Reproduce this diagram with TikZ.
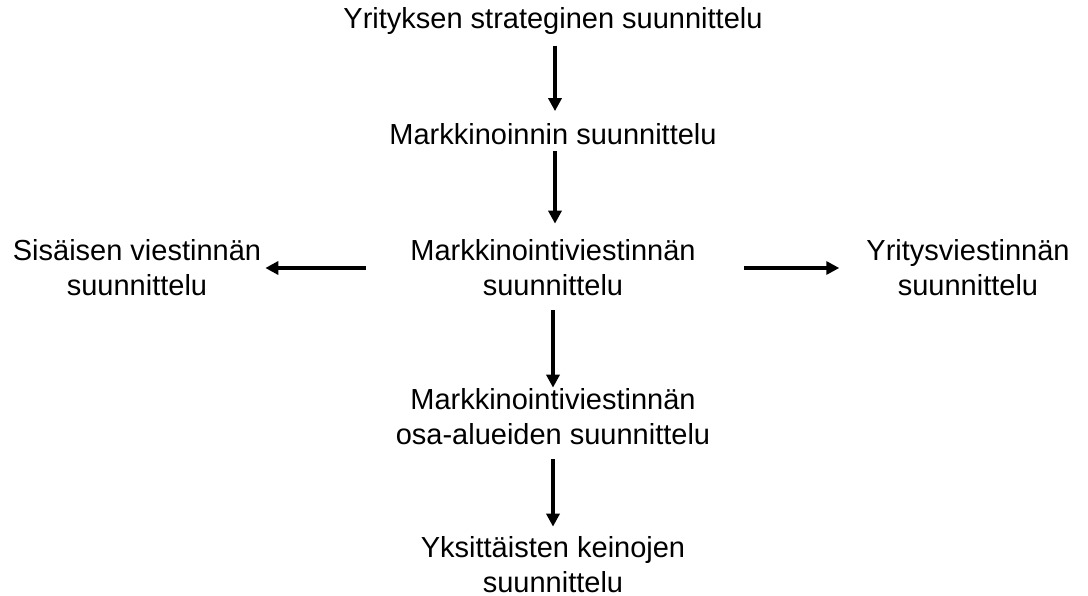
\documentclass[tikz,border=0pt]{standalone}
\usepackage{fontspec}
\setmainfont{Liberation Sans}
\usetikzlibrary{arrows.meta}
\begin{document}
\begin{tikzpicture}[x=1pt,y=-1pt,
  lbl/.style={font=\fontsize{29}{35}\selectfont, align=center, inner sep=0pt, text=black},
  arr/.style={line width=3.6pt, -{Triangle[length=13pt,width=13pt]}}]
\useasboundingbox (0,0) rectangle (1088,596);
\node[lbl] (n1) at (553,21) {Yrityksen strateginen suunnittelu};
\node[lbl] (n2) at (553,134) {Markkinoinnin suunnittelu};
\node[lbl] (n3) at (553,268) {Markkinointiviestinnän\\suunnittelu};
\node[lbl] (nl) at (137,268) {Sisäisen viestinnän\\suunnittelu};
\node[lbl] (nr) at (968,268) {Yritysviestinnän\\suunnittelu};
\node[lbl] (n4) at (553,417) {Markkinointiviestinnän\\osa-alueiden suunnittelu};
\node[lbl] (n5) at (553,565) {Yksittäisten keinojen\\suunnittelu};
\draw[arr, shorten <=11pt, shorten >=12pt] ([xshift=2pt]n1.south) -- ([xshift=2pt]n2.north);
\draw[arr, shorten <=6pt, shorten >=16pt] ([xshift=2pt]n2.south) -- ([xshift=2pt]n3.north);
\draw[arr, shorten <=14pt, shorten >=1pt] (n3.south) -- (n4.north);
\draw[arr, shorten <=14pt, shorten >=10pt] (n4.south) -- (n5.north);
\draw[arr, shorten <=44pt, shorten >=4pt] (n3.west) -- (nl.east);
\draw[arr, shorten <=48pt, shorten >=27pt] (n3.east) -- (nr.west);
\end{tikzpicture}
\end{document}
